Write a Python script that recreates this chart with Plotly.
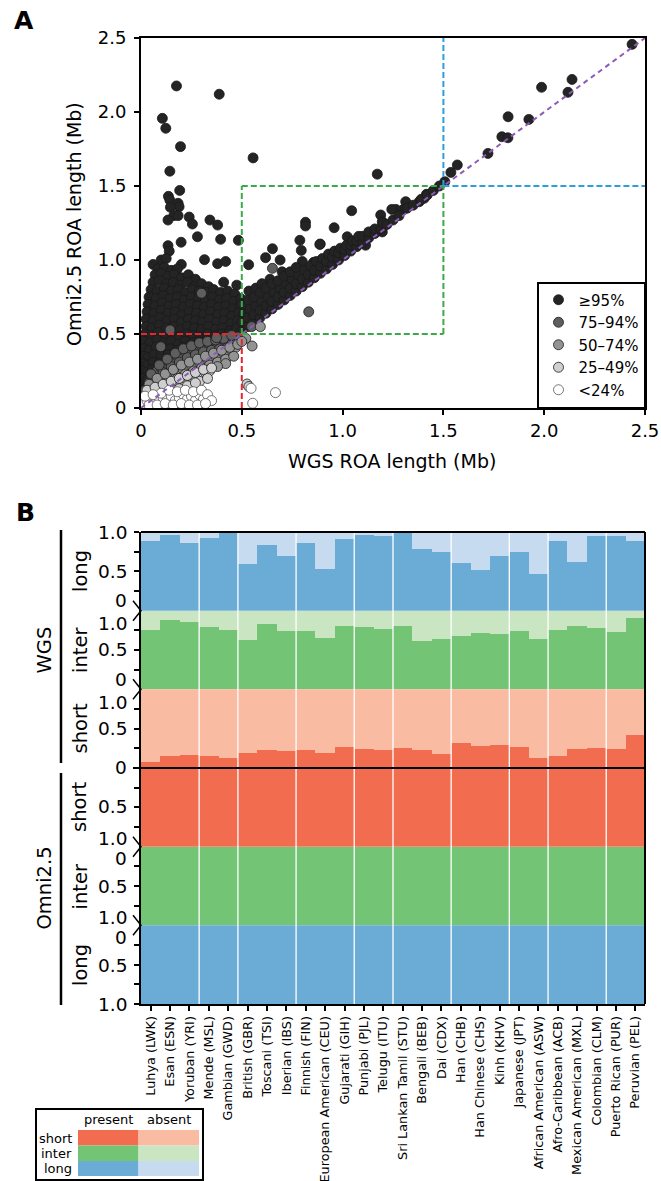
import plotly.graph_objects as go

W, H = 661, 1181
def fx(px): return px / W
def fy(py): return 1 - py / H

FONT = "DejaVu Sans"

# ---------------- Panel A data (WGS vs Omni2.5 ROA length, Mb) ----------------
CATEGORIES = ["≥95%", "75–94%", "50–74%", "25–49%", "<24%"]
CAT_COLORS = ["#242424", "#5e5e5e", "#939393", "#cfcfcf", "#ffffff"]

BLACK_PTS = [
    (0.176, 2.176), (0.388, 2.12), (0.106, 1.957), (0.123, 1.89), (0.196, 1.766), (0.556, 1.69), (0.143, 1.60),
    (0.192, 1.47), (0.136, 1.43), (0.143, 1.405), (0.184, 1.383), (0.189, 1.36), (0.146, 1.356), (0.163, 1.30),
    (0.184, 1.30), (0.134, 1.27), (0.239, 1.29), (0.255, 1.243), (0.342, 1.27), (0.38, 1.236), (0.28, 1.157),
    (0.395, 1.14), (0.483, 1.133), (0.199, 1.12), (0.134, 1.097),
    (0.816, 1.255), (0.816, 1.23), (0.958, 1.218), (0.788, 1.133), (0.889, 1.108), (0.795, 1.065), (0.652, 1.076),
    (0.315, 1.002), (0.38, 0.975), (0.42, 0.99), (0.534, 0.968), (0.69, 1.0), (0.618, 1.016), (0.856, 0.984),
    (0.80, 0.99), (1.172, 1.58), (1.045, 1.333), (1.03, 1.11), (1.023, 1.157), (0.887, 1.105), (1.114, 1.15),
    (1.114, 1.10), (1.156, 1.18),
    (2.436, 2.457), (2.138, 2.22), (2.118, 2.133), (1.987, 2.167), (1.821, 1.968), (1.924, 1.95), (1.79, 1.833),
    (1.82, 1.826), (1.721, 1.72), (1.569, 1.642), (1.537, 1.592), (1.507, 1.529),
    (1.416, 1.444), (1.405, 1.417), (1.38, 1.394), (1.313, 1.394), (1.302, 1.342), (1.264, 1.342), (1.244, 1.342),
    (1.189, 1.304), (1.197, 1.259), (1.197, 1.225), (1.197, 1.19),
    (0.14, 1.06), (0.10, 1.0), (0.125, 1.01), (0.06, 0.97), (0.20, 0.97),
    (0.085, 0.94), (0.115, 0.95), (0.15, 0.93), (0.18, 0.94),
    (0.07, 0.9), (0.10, 0.91), (0.135, 0.89), (0.165, 0.9), (0.2, 0.88), (0.235, 0.9), (0.27, 0.87),
    (0.06, 0.85), (0.09, 0.86), (0.125, 0.84), (0.16, 0.85), (0.195, 0.83), (0.23, 0.85), (0.265, 0.82),
    (0.30, 0.84), (0.335, 0.82), (0.41, 0.85), (0.475, 0.83),
    (0.05, 0.8), (0.08, 0.79), (0.115, 0.81), (0.15, 0.79), (0.185, 0.8), (0.22, 0.78), (0.255, 0.8),
    (0.29, 0.79), (0.325, 0.78), (0.36, 0.8), (0.395, 0.78), (0.43, 0.79), (0.465, 0.77),
    (0.04, 0.75), (0.075, 0.74), (0.11, 0.76), (0.145, 0.74), (0.18, 0.75), (0.215, 0.73), (0.25, 0.75),
    (0.285, 0.74), (0.32, 0.73), (0.355, 0.75), (0.39, 0.73), (0.425, 0.74), (0.46, 0.72), (0.495, 0.74),
    (0.035, 0.7), (0.07, 0.69), (0.105, 0.71), (0.14, 0.69), (0.175, 0.7), (0.21, 0.68), (0.245, 0.7),
    (0.28, 0.69), (0.315, 0.68), (0.35, 0.7), (0.385, 0.68), (0.42, 0.69), (0.455, 0.67), (0.49, 0.69),
    (0.03, 0.65), (0.065, 0.64), (0.10, 0.66), (0.135, 0.64), (0.17, 0.65), (0.205, 0.63), (0.24, 0.65),
    (0.275, 0.64), (0.31, 0.63), (0.345, 0.65), (0.38, 0.63), (0.415, 0.64), (0.45, 0.62), (0.485, 0.64),
    (0.025, 0.6), (0.06, 0.59), (0.095, 0.61), (0.13, 0.59), (0.165, 0.6), (0.2, 0.58), (0.235, 0.6),
    (0.27, 0.59), (0.305, 0.58), (0.34, 0.6), (0.375, 0.58), (0.41, 0.59), (0.445, 0.57), (0.48, 0.59),
    (0.025, 0.55), (0.055, 0.54), (0.09, 0.56), (0.125, 0.54), (0.16, 0.55), (0.195, 0.53), (0.23, 0.55),
    (0.265, 0.54), (0.3, 0.53), (0.335, 0.55), (0.37, 0.53), (0.405, 0.54), (0.44, 0.52), (0.475, 0.54),
    (0.02, 0.5), (0.05, 0.49), (0.085, 0.51), (0.12, 0.49), (0.155, 0.5), (0.19, 0.48), (0.225, 0.5),
    (0.26, 0.49), (0.295, 0.48), (0.33, 0.5), (0.365, 0.49), (0.40, 0.5), (0.435, 0.5),
    (0.02, 0.45), (0.045, 0.44), (0.08, 0.46), (0.115, 0.44), (0.15, 0.45), (0.185, 0.43), (0.22, 0.45),
    (0.255, 0.44), (0.29, 0.45), (0.325, 0.46),
    (0.015, 0.4), (0.04, 0.39), (0.075, 0.41), (0.11, 0.39), (0.145, 0.4), (0.18, 0.39), (0.215, 0.41),
    (0.015, 0.35), (0.035, 0.34), (0.065, 0.36), (0.10, 0.35), (0.135, 0.36),
    (0.01, 0.3), (0.03, 0.29), (0.06, 0.31), (0.09, 0.3),
    (0.01, 0.25), (0.03, 0.24), (0.055, 0.26), (0.01, 0.2), (0.03, 0.19), (0.01, 0.15), (0.025, 0.14),
    (0.50, 0.52), (0.50, 0.58), (0.51, 0.64), (0.50, 0.70),
    (0.53, 0.55), (0.53, 0.61), (0.54, 0.67), (0.53, 0.73), (0.535, 0.79),
    (0.56, 0.58), (0.56, 0.63), (0.57, 0.69), (0.56, 0.75), (0.57, 0.81),
    (0.59, 0.61), (0.59, 0.66), (0.60, 0.72), (0.59, 0.78), (0.60, 0.84),
    (0.62, 0.64), (0.62, 0.69), (0.63, 0.75), (0.62, 0.81), (0.64, 0.87),
    (0.65, 0.67), (0.65, 0.72), (0.66, 0.78), (0.65, 0.84),
    (0.68, 0.70), (0.68, 0.75), (0.69, 0.81), (0.68, 0.86), (0.70, 0.92),
    (0.71, 0.73), (0.71, 0.78), (0.72, 0.84), (0.71, 0.89),
    (0.74, 0.76), (0.74, 0.81), (0.75, 0.87), (0.74, 0.92),
    (0.77, 0.79), (0.77, 0.84), (0.78, 0.90), (0.77, 0.95),
    (0.80, 0.82), (0.80, 0.87), (0.81, 0.93), (0.83, 0.85), (0.83, 0.90), (0.84, 0.96),
    (0.86, 0.88), (0.86, 0.93), (0.87, 0.99), (0.89, 0.91), (0.89, 0.96), (0.90, 1.01),
    (0.92, 0.94), (0.92, 0.99), (0.93, 1.04), (0.95, 0.97), (0.95, 1.02), (0.96, 1.06),
    (0.98, 1.00), (0.98, 1.05), (0.99, 1.08), (1.01, 1.03), (1.01, 1.07), (1.02, 1.10),
    (1.04, 1.06), (1.04, 1.10), (1.05, 1.13), (1.07, 1.09), (1.07, 1.13), (1.08, 1.16),
    (1.10, 1.12), (1.10, 1.16), (1.13, 1.15), (1.13, 1.19), (1.16, 1.18), (1.16, 1.21),
    (1.19, 1.21), (1.20, 1.25), (1.22, 1.24), (1.25, 1.27), (1.28, 1.30), (1.32, 1.35),
    (1.35, 1.37), (1.39, 1.41), (1.42, 1.44), (1.45, 1.47), (1.48, 1.50),
]
DGRAY_PTS = [
    (0.02, 0.12), (0.04, 0.17), (0.06, 0.21), (0.08, 0.25), (0.10, 0.27), (0.12, 0.30), (0.14, 0.31),
    (0.16, 0.33), (0.18, 0.35), (0.20, 0.36), (0.22, 0.38), (0.24, 0.39), (0.26, 0.40), (0.28, 0.41),
    (0.30, 0.42), (0.32, 0.43), (0.34, 0.42), (0.36, 0.44), (0.38, 0.43), (0.40, 0.45), (0.42, 0.44),
    (0.44, 0.46), (0.46, 0.47), (0.48, 0.48),
    (0.07, 0.19), (0.11, 0.24), (0.15, 0.28), (0.19, 0.31), (0.23, 0.34), (0.27, 0.36), (0.31, 0.38),
    (0.35, 0.39), (0.39, 0.40), (0.43, 0.41),
    (0.05, 0.23), (0.09, 0.29), (0.13, 0.33), (0.17, 0.37), (0.21, 0.40), (0.25, 0.42), (0.29, 0.44),
    (0.33, 0.45), (0.37, 0.46), (0.41, 0.47), (0.45, 0.49),
    (0.144, 0.527), (0.098, 0.414), (0.30, 0.775), (0.652, 0.944), (0.832, 0.65), (0.375, 0.475), (0.549, 0.55),
]
MGRAY_PTS = [
    (0.03, 0.10), (0.05, 0.13), (0.07, 0.15), (0.09, 0.17), (0.11, 0.19), (0.13, 0.21), (0.15, 0.22),
    (0.17, 0.24), (0.19, 0.25), (0.21, 0.26), (0.23, 0.28), (0.25, 0.29), (0.27, 0.30), (0.29, 0.31),
    (0.31, 0.32), (0.33, 0.33), (0.35, 0.34), (0.37, 0.35), (0.39, 0.36), (0.41, 0.37), (0.43, 0.38),
    (0.45, 0.39), (0.47, 0.41),
    (0.14, 0.18), (0.18, 0.20), (0.22, 0.23), (0.26, 0.25), (0.30, 0.27), (0.34, 0.29), (0.38, 0.31),
    (0.42, 0.33), (0.46, 0.35),
    (0.04, 0.16), (0.08, 0.20), (0.12, 0.23), (0.16, 0.26), (0.20, 0.29), (0.24, 0.31), (0.28, 0.33),
    (0.32, 0.35), (0.36, 0.37), (0.40, 0.39), (0.44, 0.41), (0.48, 0.43), (0.42, 0.30), (0.38, 0.28),
    (0.34, 0.26),
    (0.551, 0.419), (0.592, 0.55), (0.52, 0.47), (0.50, 0.45),
]
LGRAY_PTS = [
    (0.02, 0.07), (0.04, 0.09), (0.06, 0.10), (0.08, 0.12), (0.10, 0.13), (0.12, 0.14), (0.14, 0.15),
    (0.16, 0.16), (0.18, 0.17), (0.20, 0.18), (0.22, 0.19), (0.24, 0.20), (0.26, 0.21), (0.28, 0.22),
    (0.30, 0.23), (0.32, 0.24), (0.34, 0.25),
    (0.09, 0.08), (0.13, 0.10), (0.17, 0.12), (0.21, 0.14), (0.25, 0.16), (0.29, 0.18), (0.33, 0.20),
    (0.03, 0.12), (0.07, 0.14), (0.11, 0.16), (0.15, 0.18), (0.19, 0.20), (0.23, 0.22), (0.27, 0.24),
    (0.31, 0.26), (0.35, 0.27), (0.05, 0.06), (0.15, 0.11), (0.19, 0.13), (0.23, 0.15), (0.27, 0.17),
    (0.526, 0.162), (0.535, 0.145),
]
WHITE_PTS = [
    (0.01, 0.03), (0.03, 0.05), (0.05, 0.04), (0.07, 0.06), (0.09, 0.05), (0.11, 0.07), (0.13, 0.06),
    (0.15, 0.08), (0.17, 0.05), (0.19, 0.07), (0.21, 0.09), (0.23, 0.06), (0.25, 0.08), (0.27, 0.05),
    (0.29, 0.09), (0.31, 0.06), (0.04, 0.02), (0.08, 0.02), (0.12, 0.03), (0.16, 0.02), (0.20, 0.03),
    (0.24, 0.02), (0.10, 0.10), (0.14, 0.12), (0.18, 0.11), (0.22, 0.12),
    (0.02, 0.08), (0.06, 0.09), (0.26, 0.11), (0.30, 0.12), (0.33, 0.09), (0.35, 0.05), (0.28, 0.02),
    (0.32, 0.03),
    (0.554, 0.032), (0.667, 0.104), (0.546, 0.133),
]
A_TICKS = [0, 0.5, 1.0, 1.5, 2.0, 2.5]
A_TICKTEXT = ["0", "0.5", "1.0", "1.5", "2.0", "2.5"]

# ---------------- Panel B data (fraction present per population) ----------------
POPS = ["Luhya (LWK)", "Esan (ESN)", "Yoruban (YRI)", "Mende (MSL)", "Gambian (GWD)", "British (GBR)",
        "Toscani (TSI)", "Iberian (IBS)", "Finnish (FIN)", "European American (CEU)", "Gujarati (GIH)",
        "Punjabi (PJL)", "Telugu (ITU)", "Sri Lankan Tamil (STU)", "Bengali (BEB)", "Dai (CDX)", "Han (CHB)",
        "Han Chinese (CHS)", "Kinh (KHV)", "Japanese (JPT)", "African American (ASW)", "Afro-Caribbean (ACB)",
        "Mexican American (MXL)", "Colombian (CLM)", "Puerto Rican (PUR)", "Peruvian (PEL)"]
WGS_LONG = [0.88, 0.96, 0.86, 0.92, 0.99, 0.59, 0.84, 0.69, 0.86, 0.53, 0.91, 0.96, 0.945, 0.99, 0.79,
            0.74, 0.61, 0.52, 0.69, 0.75, 0.46, 0.89, 0.625, 0.945, 0.945, 0.89]
WGS_INTER = [0.76, 0.886, 0.865, 0.80, 0.76, 0.63, 0.835, 0.75, 0.75, 0.66, 0.81, 0.80, 0.77, 0.81, 0.62,
             0.645, 0.68, 0.72, 0.71, 0.75, 0.645, 0.76, 0.81, 0.785, 0.73, 0.91]
WGS_SHORT = [0.072, 0.148, 0.161, 0.148, 0.123, 0.186, 0.225, 0.212, 0.225, 0.186, 0.263, 0.237, 0.225,
             0.25, 0.225, 0.174, 0.314, 0.275, 0.288, 0.263, 0.123, 0.148, 0.237, 0.25, 0.237, 0.415]
OMNI_SHORT = [1.0, 1.0, 1.0, 1.0, 1.0, 1.0, 1.0, 1.0, 1.0, 1.0, 1.0, 1.0, 1.0,
              1.0, 1.0, 1.0, 1.0, 1.0, 1.0, 1.0, 1.0, 1.0, 1.0, 1.0, 1.0, 1.0]
OMNI_INTER = [1.0, 1.0, 1.0, 1.0, 1.0, 1.0, 1.0, 1.0, 1.0, 1.0, 1.0, 1.0, 1.0,
              1.0, 1.0, 1.0, 1.0, 1.0, 1.0, 1.0, 1.0, 1.0, 1.0, 1.0, 1.0, 1.0]
OMNI_LONG = [1.0, 1.0, 1.0, 1.0, 1.0, 1.0, 1.0, 1.0, 1.0, 1.0, 1.0, 1.0, 1.0,
             1.0, 1.0, 1.0, 1.0, 1.0, 1.0, 1.0, 1.0, 1.0, 1.0, 1.0, 1.0, 1.0]
SEPARATORS = [2.5, 4.5, 7.5, 10.5, 12.5, 15.5, 18.5, 20.5, 23.5]
COLORS = {"short": ("#F26C4F", "#F9BBA1"), "inter": ("#74C476", "#C9E5C2"), "long": ("#6BACD6", "#C6DBEF")}

fig = go.Figure()

# ---------------- Panel A traces ----------------
for pts, name, col in zip([BLACK_PTS, DGRAY_PTS, MGRAY_PTS, LGRAY_PTS, WHITE_PTS], CATEGORIES, CAT_COLORS):
    fig.add_trace(go.Scatter(
        x=[p[0] for p in pts], y=[p[1] for p in pts], mode="markers", name=name,
        marker=dict(size=10, color=col, line=dict(color="#1a1a1a" if col != "#ffffff" else "#555555", width=0.8)),
        xaxis="x", yaxis="y", hoverinfo="skip"))

# ---------------- Panel B traces ----------------
BANDS = [("y2", WGS_LONG, "long"), ("y3", WGS_INTER, "inter"), ("y4", WGS_SHORT, "short"),
         ("y5", OMNI_SHORT, "short"), ("y6", OMNI_INTER, "inter"), ("y7", OMNI_LONG, "long")]
for ax, vals, kind in BANDS:
    pc, ac = COLORS[kind]
    fig.add_trace(go.Bar(x=POPS, y=vals, xaxis="x2", yaxis=ax, width=1, showlegend=False,
                         marker=dict(color=pc, line=dict(width=0)), hoverinfo="skip"))
    fig.add_trace(go.Bar(x=POPS, y=[1 - v for v in vals], xaxis="x2", yaxis=ax, width=1, showlegend=False,
                         marker=dict(color=ac, line=dict(width=0)), hoverinfo="skip"))

band_edges = [532, 610.67, 689.33, 768, 846.67, 925.33, 1004]
TICKS_B = {"y2": [0.25, 0.5, 0.75, 1.0], "y3": [0.25, 0.5, 0.75], "y4": [0, 0.25, 0.5, 0.75],
           "y5": [0, 0.25, 0.5, 0.75], "y6": [0.25, 0.5, 0.75], "y7": [0.25, 0.5, 0.75, 1.0]}

axis_common = dict(showgrid=False, zeroline=False, showline=True, linecolor="black", linewidth=2,
                   ticks="outside", ticklen=5, tickwidth=1.5, tickcolor="black", automargin=False)
layout = dict(
    width=W, height=H, margin=dict(l=0, r=0, t=0, b=0, pad=0, autoexpand=False),
    paper_bgcolor="white", plot_bgcolor="white",
    font=dict(family=FONT, color="black"),
    barmode="stack", bargap=0,
    showlegend=True,
    legend=dict(x=fx(645), xanchor="right", y=fy(408), yanchor="bottom", bgcolor="white",
                bordercolor="black", borderwidth=1.5, font=dict(size=15, family=FONT), traceorder="normal"),
    xaxis=dict(domain=[fx(141), fx(645)], anchor="y", range=[0, 2.5], tickvals=A_TICKS, ticktext=A_TICKTEXT,
               mirror=True, tickfont=dict(size=18), **axis_common),
    yaxis=dict(domain=[fy(408), fy(38)], anchor="x", range=[0, 2.5], tickvals=A_TICKS, ticktext=A_TICKTEXT,
               mirror=True, tickfont=dict(size=18), ticklabelstandoff=4, **axis_common),
    xaxis2=dict(domain=[fx(141), fx(645)], anchor="y7", type="category", range=[-0.5, 25.5], tickangle=-90,
                tickfont=dict(size=12.8), **axis_common),
)
for i, ax in enumerate(["y2", "y3", "y4", "y5", "y6", "y7"]):
    key = "yaxis" + ax[1:]
    rng = [0, 1] if i < 3 else [1, 0]
    layout[key] = dict(domain=[fy(band_edges[i + 1]), fy(band_edges[i])], anchor="x2", range=rng,
                       tickvals=TICKS_B[ax], showticklabels=False, **axis_common)
fig.update_layout(**layout)

shapes = []
def dline(x0, y0, x1, y1, color, dash="6px,3px"):
    shapes.append(dict(type="line", xref="x", yref="y", x0=x0, y0=y0, x1=x1, y1=y1, layer="above",
                       line=dict(color=color, width=2, dash=dash)))
dline(0, 0, 2.5, 2.5, "#8A5CB8", "5px,4px")
RED, GREEN, BLUE = "#E8262B", "#3BAA4B", "#2D9FDC"
dline(0.5, 0, 0.5, 0.5, RED); dline(0, 0.5, 0.5, 0.5, RED)
dline(0.5, 0.5, 0.5, 1.5, GREEN); dline(0.5, 1.5, 1.5, 1.5, GREEN)
dline(1.5, 0.5, 1.5, 1.5, GREEN); dline(0.5, 0.5, 1.5, 0.5, GREEN)
dline(1.5, 1.5, 1.5, 2.5, BLUE); dline(1.5, 1.5, 2.5, 1.5, BLUE)

for s in SEPARATORS:
    shapes.append(dict(type="line", xref="x2", yref="paper", x0=s, x1=s, y0=fy(1004), y1=fy(532),
                       layer="above", line=dict(color="white", width=1.3)))
shapes.append(dict(type="line", xref="paper", yref="paper", x0=fx(141), x1=fx(645), y0=fy(532), y1=fy(532),
                   line=dict(color="black", width=2)))
shapes.append(dict(type="line", xref="paper", yref="paper", x0=fx(645), x1=fx(645), y0=fy(1004), y1=fy(532),
                   line=dict(color="black", width=2)))
shapes.append(dict(type="line", xref="paper", yref="paper", x0=fx(133), x1=fx(645), y0=fy(768), y1=fy(768),
                   line=dict(color="black", width=2.2)))
for e in [610.67, 689.33, 846.67, 925.33]:
    shapes.append(dict(type="path", xref="paper", yref="paper",
                       path=f"M {fx(133)},{fy(e - 10)} L {fx(141)},{fy(e)} L {fx(133)},{fy(e + 10)}",
                       line=dict(color="black", width=1.5)))
shapes.append(dict(type="line", xref="paper", yref="paper", x0=fx(61), x1=fx(61), y0=fy(763), y1=fy(530),
                   line=dict(color="black", width=2.5)))
shapes.append(dict(type="line", xref="paper", yref="paper", x0=fx(61), x1=fx(61), y0=fy(1005), y1=fy(773),
                   line=dict(color="black", width=2.5)))
shapes.append(dict(type="rect", xref="paper", yref="paper", x0=fx(36), x1=fx(203), y0=fy(1180), y1=fy(1109),
                   line=dict(color="black", width=2), fillcolor="white"))
for kind, (y0, y1) in zip(["short", "inter", "long"], [(1130, 1145.5), (1145.5, 1161), (1161, 1176)]):
    pc, ac = COLORS[kind]
    shapes.append(dict(type="rect", xref="paper", yref="paper", x0=fx(78), x1=fx(138.5), y0=fy(y1), y1=fy(y0),
                       line=dict(width=0), fillcolor=pc))
    shapes.append(dict(type="rect", xref="paper", yref="paper", x0=fx(138.5), x1=fx(199), y0=fy(y1), y1=fy(y0),
                       line=dict(width=0), fillcolor=ac))

annots = []
def txt(text, px, py, size, xanchor="center", angle=0, bold=False):
    annots.append(dict(text=f"<b>{text}</b>" if bold else text, x=fx(px), y=fy(py), xref="paper", yref="paper",
                       xanchor=xanchor, yanchor="middle", showarrow=False, textangle=angle,
                       font=dict(size=size, family=FONT, color="black")))

txt("A", 12, 21, 25, xanchor="left", bold=True)
txt("B", 14, 512, 25, xanchor="left", bold=True)
txt("WGS ROA length (Mb)", 391.5, 461, 19)
txt("Omni2.5 ROA length (Mb)", 74, 224, 19, angle=-90)

for lab, py in [("1.0", 532), ("0.5", 571), ("0", 600.5), ("1.0", 623), ("0.5", 649.5), ("0", 679),
                ("1.0", 702), ("0.5", 728.5), ("0", 768), ("0.5", 807), ("1.0", 838), ("0", 858),
                ("0.5", 886.5), ("1.0", 917), ("0", 937), ("0.5", 965), ("1.0", 1004.5)]:
    txt(lab, 129, py, 18.5, xanchor="right")

for lab, py in [("long", 571), ("inter", 650), ("short", 728.5), ("short", 807), ("inter", 886.5), ("long", 965)]:
    txt(lab, 80, py, 19.5, angle=-90)
txt("WGS", 43.5, 650, 19.5, angle=-90)
txt("Omni2.5", 43.5, 888, 19.5, angle=-90)

txt("present", 108.5, 1119.5, 13)
txt("absent", 168.5, 1119.5, 13)
txt("short", 74, 1138, 13, xanchor="right")
txt("inter", 74, 1153.5, 13, xanchor="right")
txt("long", 74, 1168.5, 13, xanchor="right")

fig.update_layout(shapes=shapes, annotations=annots)
fig.write_html("out.html")
